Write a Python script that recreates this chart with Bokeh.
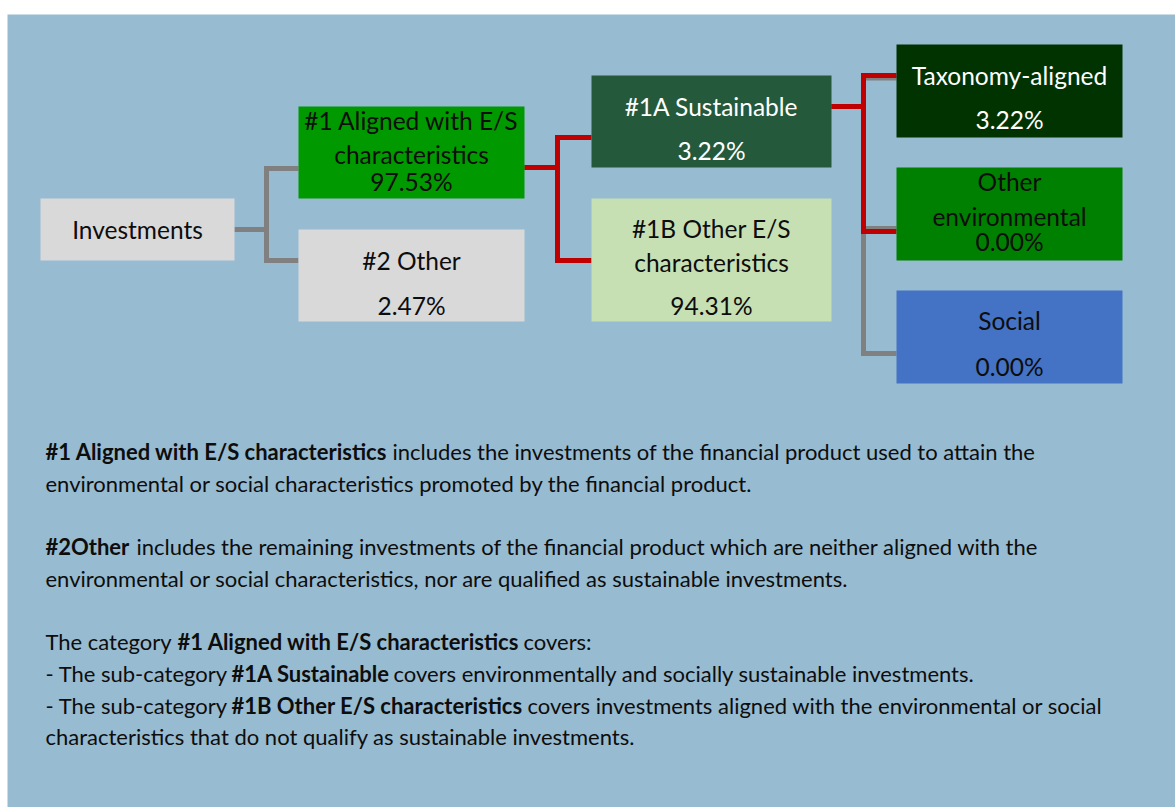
from bokeh.plotting import figure
from bokeh.models import Range1d
from bokeh.core.properties import value
from bokeh.embed import file_html
from bokeh.resources import INLINE

# ---------------- data ----------------
nodes = ["Investments", "#1 Aligned with E/S characteristics", "#2 Other",
         "#1A Sustainable", "#1B Other E/S characteristics",
         "Taxonomy-aligned", "Other environmental", "Social"]
shares = [None, 97.53, 2.47, 3.22, 94.31, 3.22, 0.00, 0.00]
node_lines = [["Investments"], ["#1 Aligned with E/S", "characteristics"], ["#2 Other"],
              ["#1A Sustainable"], ["#1B Other E/S", "characteristics"],
              ["Taxonomy-aligned"], ["Other", "environmental"], ["Social"]]
parents = [None, 0, 0, 1, 1, 3, 3, 3]

notes = [
    [("#1 Aligned with E/S characteristics", True), ("includes the investments of the financial product used to attain the", False)],
    [("environmental or social characteristics promoted by the financial product.", False)],
    [("#2Other", True), ("includes the remaining investments of the financial product which are neither aligned with the", False)],
    [("environmental or social characteristics, nor are qualified as sustainable investments.", False)],
    [("The category", False), ("#1 Aligned with E/S characteristics", True), ("covers:", False)],
    [("- The sub-category", False), ("#1A Sustainable", True), ("covers environmentally and socially sustainable investments.", False)],
    [("- The sub-category", False), ("#1B Other E/S characteristics", True), ("covers investments aligned with the environmental or social", False)],
    [("characteristics that do not qualify as sustainable investments.", False)],
]

# ---------------- layout / style ----------------
box_left = [40, 298, 298, 591, 591, 896, 896, 896]
box_right = [234, 524, 524, 831, 831, 1122, 1122, 1122]
box_top = [198, 106, 229, 75, 198, 44, 167, 290]
box_bottom = [260, 198, 321, 167, 321, 137, 260, 383]
box_fill = ["#D9D9D9", "#009900", "#D9D9D9", "#245A3B", "#C6E0B4", "#003300", "#008000", "#4472C4"]
box_text = ["#0D0D0D", "#0D0D0D", "#0D0D0D", "#FFFFFF", "#0D0D0D", "#FFFFFF", "#0D0D0D", "#0D0D0D"]
BOX_SHIFT = -8.5
line_base = [[237], [128, 162, 189], [268, 313], [114, 158], [236, 270, 313],
             [83, 127], [189, 224, 249], [328, 374]]
exit_y = {0: 229, 1: 167, 3: 106}
elbow_x = {0: 266, 1: 557, 3: 863}
entry_y = [None, 168, 260, 137, 260, 75, 231, 353]
link_color = [None, "#808080", "#808080", "#C00000", "#C00000", "#C00000", "#C00000", "#808080"]
# faint grey under-strokes peeking out below/above the red entries
shadow_entry = {5: 77.5, 6: 228}

NOTE_SHIFT = -7.5
note_base = [458, 490, 553, 585, 648, 680, 712, 743]
note_x = [[45, 392], [45], [45, 136], [45], [45, 177, 523], [45, 231, 393], [45, 231, 527], [45]]

BG = "#97BBD0"
FONT = "Lato"
BOX_FS = "24.5px"
NOTE_FS = "22px"

p = figure(width=1175, height=807, output_backend="svg", toolbar_location=None,
           x_range=Range1d(0, 1175), y_range=Range1d(807, 0),
           min_border=0, background_fill_color="white", border_fill_color="white")
p.axis.visible = False
p.grid.visible = False
p.outline_line_color = None

# panel background
p.quad(left=[7], right=[1175], top=[14], bottom=[807], fill_color=BG, line_color=None)

# grey under-strokes
sx, sy = [], []
for i, yy in shadow_entry.items():
    par = parents[i]
    sx.append([elbow_x[par], elbow_x[par], box_left[i]])
    sy.append([exit_y[par], yy, yy])
p.multi_line(xs=sx, ys=sy, line_color="#808080", line_width=5, line_join="miter", line_cap="butt")

# connectors (grey first, red on top)
for col in ["#808080", "#C00000"]:
    xs, ys = [], []
    for i, par in enumerate(parents):
        if par is None or link_color[i] != col:
            continue
        xs.append([box_right[par], elbow_x[par], elbow_x[par], box_left[i]])
        ys.append([exit_y[par], exit_y[par], entry_y[i], entry_y[i]])
    p.multi_line(xs=xs, ys=ys, line_color=col, line_width=5, line_join="miter", line_cap="butt")

# boxes
p.quad(left=box_left, right=box_right, top=box_top, bottom=box_bottom,
       fill_color=box_fill, line_color=None)

# box texts
tx, ty, tt, tc = [], [], [], []
for i, lines in enumerate(node_lines):
    allines = list(lines)
    if shares[i] is not None:
        allines.append(f"{shares[i]:.2f}%")
    cx = (box_left[i] + box_right[i]) / 2
    for j, s in enumerate(allines):
        tx.append(cx); ty.append(line_base[i][j] + BOX_SHIFT); tt.append(s); tc.append(box_text[i])
p.text(x=tx, y=ty, text=tt, text_color=tc, text_align="center", text_baseline="alphabetic",
       text_font=value(FONT), text_font_size=value(BOX_FS))

# notes
for k, segs in enumerate(notes):
    for (s, bold), x in zip(segs, note_x[k]):
        p.text(x=[x], y=[note_base[k] + NOTE_SHIFT], text=[s], text_color="#0D0D0D", text_align="left",
               text_baseline="alphabetic", text_font=value(FONT), text_font_size=value(NOTE_FS),
               text_font_style="bold" if bold else "normal")

open("out.html", "w").write(file_html(p, INLINE))
